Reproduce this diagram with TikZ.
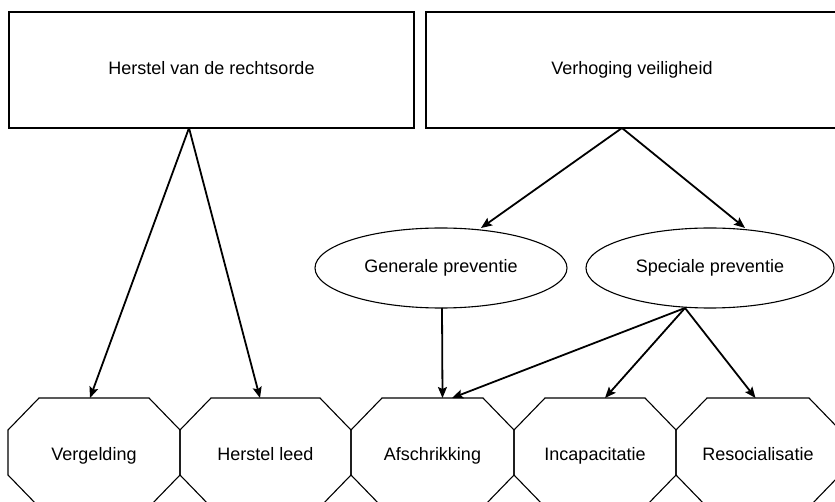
\documentclass[tikz,border=0pt]{standalone}
\usepackage{fontspec}
\setmainfont{Liberation Sans}
\usetikzlibrary{arrows.meta,shapes.geometric}
\begin{document}
\begin{tikzpicture}[x=1pt,y=-1pt,
  every node/.style={inner sep=0pt,outer sep=0pt,font=\fontsize{18}{21}\selectfont,text height=13pt,text depth=4pt},
  boxnode/.style={draw,line width=1.1pt,rectangle,minimum height=116pt},
  ellnode/.style={draw,line width=1.1pt,ellipse,minimum height=80pt},
  octnode/.style={minimum height=109pt,text height=17pt,text depth=2pt},
  octline/.style={line width=1.1pt,line join=miter},
  arr/.style={line width=1.8pt,-{Stealth[length=11pt,width=9pt,inset=2pt]}}
]
\useasboundingbox (0,0) rectangle (835,502);
\fill[white] (0,0) rectangle (835,502);

\node[boxnode,minimum width=405pt] (r1) at (211.5,70) {Herstel van de rechtsorde};
\node[boxnode,minimum width=412pt] (r2) at (632,70) {Verhoging veiligheid};

\node[ellnode,minimum width=252pt] (gen) at (441,268) {Generale preventie};
\node[ellnode,minimum width=248pt] (spec) at (710,268) {Speciale preventie};

\node[octnode,minimum width=172pt] (verg) at (94,452.5) {Vergelding};
\node[octnode,minimum width=171pt] (hers) at (265.5,452.5) {Herstel leed};
\node[octnode,minimum width=163pt] (afs) at (432.5,452.5) {Afschrikking};
\node[octnode,minimum width=162pt] (inc) at (595,452.5) {Incapacitatie};
\node[octnode,minimum width=164pt] (reso) at (758,452.5) {Resocialisatie};

\foreach \n in {verg,hers,afs,inc,reso}{
  \draw[octline] ([xshift=31pt]\n.north west) -- ([xshift=-31pt]\n.north east)
    -- ([yshift=-32pt]\n.north east) -- ([yshift=32pt]\n.south east)
    -- ([xshift=-31pt]\n.south east) -- ([xshift=31pt]\n.south west)
    -- ([yshift=32pt]\n.south west) -- ([yshift=-32pt]\n.north west) -- cycle;
}

\draw[arr] ([xshift=-22.5pt]r1.south) -- ([xshift=-4pt]verg.north);
\draw[arr] ([xshift=-22.5pt]r1.south) -- ([xshift=-5.5pt]hers.north);
\draw[arr] ([xshift=-10pt]r2.south) -- ([xshift=40pt]gen.north);
\draw[arr] ([xshift=-10pt]r2.south) -- ([xshift=35pt]spec.north);
\draw[arr] ([xshift=1pt]gen.south) -- ([xshift=10pt]afs.north);
\draw[arr] ([xshift=-25pt]spec.south) -- ([xshift=19.5pt]afs.north);
\draw[arr] ([xshift=-25pt]spec.south) -- ([xshift=10pt]inc.north);
\draw[arr] ([xshift=-25pt]spec.south) -- ([xshift=-2.5pt]reso.north);
\end{tikzpicture}
\end{document}
